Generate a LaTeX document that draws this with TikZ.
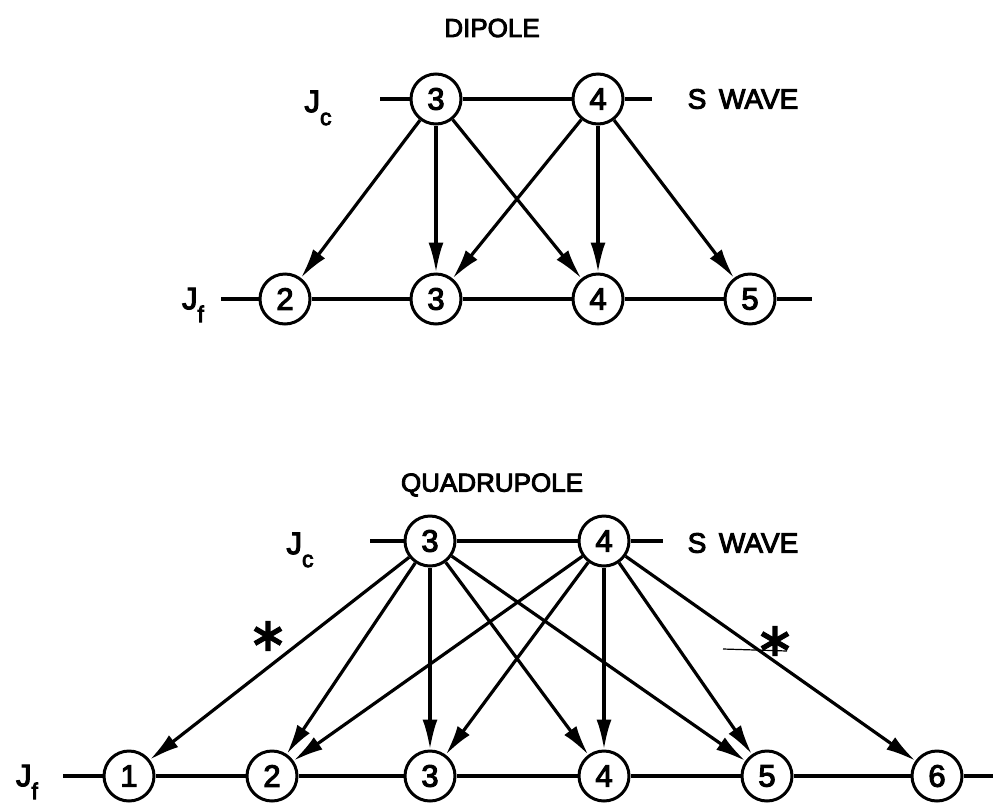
\documentclass[tikz,border=0pt]{standalone}
\usepackage{fontspec}
\setmainfont{Liberation Sans}
\newfontfamily\djv{DejaVu Sans}[FakeBold=3]
\newfontfamily\lab{Liberation Sans}[FakeBold=3.5]
\usetikzlibrary{arrows.meta}
\begin{document}
\begin{tikzpicture}[x=1pt,y=-1pt,
  st/.style={circle,draw,line width=3pt,fill=white,minimum size=50pt,inner sep=0pt,font=\lab\fontsize{31}{31}\selectfont},
  ln/.style={line width=3.2pt},
  ar/.style={line width=3.2pt,-{Latex[length=30pt,width=15pt]}},
  lbl/.style={font=\lab\fontsize{26}{28}\selectfont},
  sw/.style={font=\lab\fontsize{28}{30}\selectfont},
  jl/.style={font=\lab\fontsize{31}{31}\selectfont},
  ast/.style={font=\djv\fontsize{46}{46}\selectfont}]
\useasboundingbox (0,0) rectangle (993,804);
% ---------- DIPOLE ----------
\node[lbl] (t1) at (492,28) {DIPOLE};
\node[st] (u3) at (436,99) {3};
\node[st] (u4) at (598,99) {4};
\coordinate (ua) at (380,99);
\coordinate (ub) at (652,99);
\draw[ln] (ua) -- (u3) -- (u4) -- (ub);
\node[jl] (jc1) at (318,108) {J\raisebox{-0.42em}{\fontsize{23}{23}\selectfont c}};
\node[sw] (sw1) at (743,99) {S\hspace{0.45em}WAVE};
\node[st] (l2) at (285,299) {2};
\node[st] (l3) at (436,299) {3};
\node[st] (l4) at (598,299) {4};
\node[st] (l5) at (750,299) {5};
\coordinate (la) at (221,299);
\coordinate (lb) at (812,299);
\draw[ln] (la) -- (l2) -- (l3) -- (l4) -- (l5) -- (lb);
\node[jl] (jf1) at (193,305) {J\raisebox{-0.42em}{\fontsize{23}{23}\selectfont f}};
\foreach \a/\b in {u3/l2,u3/l3,u3/l4,u4/l3,u4/l4,u4/l5}
  \draw[ar] (\a) -- (\b);
% ---------- QUADRUPOLE ----------
\node[lbl] (t2) at (492,485) {QUADRUPOLE};
\node[st] (q3) at (430,541) {3};
\node[st] (q4) at (604,541) {4};
\coordinate (qa) at (370,541);
\coordinate (qb) at (663,541);
\draw[ln] (qa) -- (q3) -- (q4) -- (qb);
\node[jl] (jc2) at (300,550) {J\raisebox{-0.42em}{\fontsize{23}{23}\selectfont c}};
\node[sw] (sw2) at (743,543) {S\hspace{0.45em}WAVE};
\node[st] (p1) at (129,776) {1};
\node[st] (p2) at (272,776) {2};
\node[st] (p3) at (430,776) {3};
\node[st] (p4) at (604,776) {4};
\node[st] (p5) at (767,776) {5};
\node[st] (p6) at (937,776) {6};
\coordinate (pa) at (63,776);
\coordinate (pb) at (993,776);
\draw[ln] (pa) -- (p1) -- (p2) -- (p3) -- (p4) -- (p5) -- (p6) -- (pb);
\node[jl] (jf2) at (27,782) {J\raisebox{-0.42em}{\fontsize{23}{23}\selectfont f}};
\foreach \a/\b in {q3/p1,q3/p2,q3/p3,q3/p4,q3/p5,q4/p2,q4/p3,q4/p4,q4/p5,q4/p6}
  \draw[ar] (\a) -- (\b);
\node[ast] (s1) at (268,636) {∗};
\node[ast] (s2) at (775,641) {∗};
\coordinate (ma) at (723,649);
\coordinate (mb) at (787,651);
\draw[line width=1.2pt] (ma) -- (mb);
\end{tikzpicture}
\end{document}
